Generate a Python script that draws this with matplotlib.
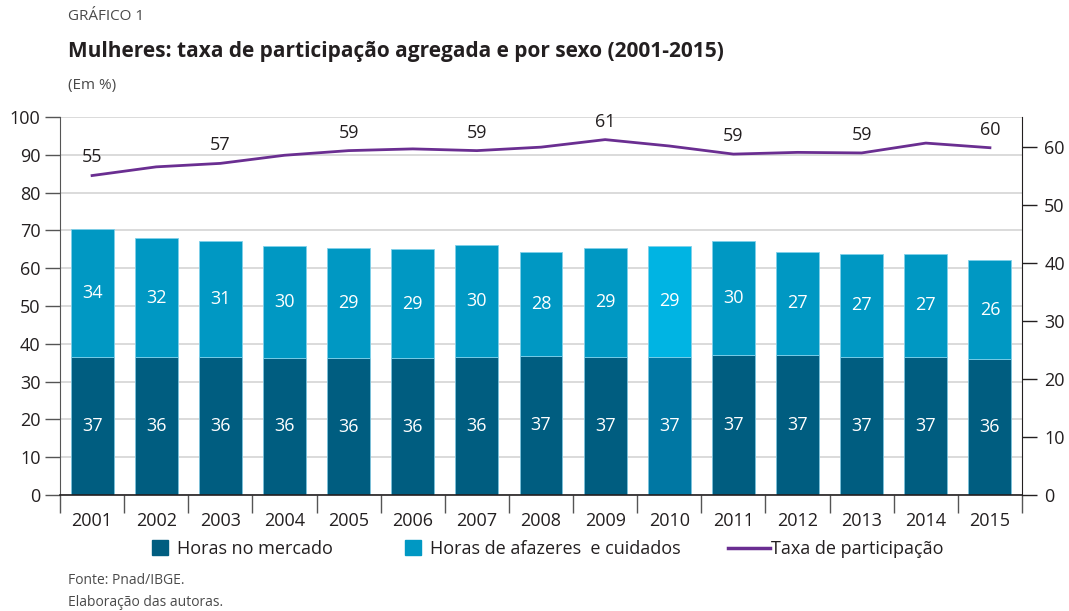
import matplotlib
matplotlib.use("Agg")
import matplotlib.pyplot as plt
from matplotlib.patches import Patch
from matplotlib.lines import Line2D
import numpy as np

plt.rcParams['font.family'] = ['Open Sans', 'DejaVu Sans']

# dados
anos = ['2001', '2002', '2003', '2004', '2005', '2006', '2007', '2008',
        '2009', '2010', '2011', '2012', '2013', '2014', '2015']
horas_mercado = [36.6, 36.4, 36.4, 36.3, 36.2, 36.2, 36.4, 36.8,
                 36.6, 36.6, 37.0, 37.0, 36.6, 36.6, 35.9]
horas_afazeres = [33.8, 31.6, 30.8, 29.6, 29.1, 28.9, 29.7, 27.6,
                  28.8, 29.4, 30.2, 27.4, 27.1, 27.1, 26.3]
taxa_participacao = [55.1, 56.6, 57.2, 58.6, 59.4, 59.7, 59.4, 60.0,
                     61.3, 60.2, 58.8, 59.1, 59.0, 60.7, 59.9]
anos_rotulo_taxa = ['2001', '2003', '2005', '2007', '2009', '2011', '2013', '2015']
ano_destaque = '2010'

C_MERC = '#005d80'
C_AFAZ = '#0098c3'
C_MERC_D = '#0077a3'
C_AFAZ_D = '#00b4e3'
C_LINHA = '#6a2e91'
C_TXT = '#231f20'

fig = plt.figure(figsize=(10.69, 6.11), dpi=100)
ax = fig.add_axes([60 / 1069, 1 - 495 / 611, (1022 - 60) / 1069, (495 - 117) / 611])

x = np.arange(len(anos))
cor_m = [C_MERC_D if a == ano_destaque else C_MERC for a in anos]
cor_a = [C_AFAZ_D if a == ano_destaque else C_AFAZ for a in anos]

ax.bar(x, horas_mercado, width=0.67, color=cor_m, edgecolor='#7cc3dc', linewidth=0.6, zorder=2)
ax.bar(x, horas_afazeres, width=0.67, bottom=horas_mercado, color=cor_a,
       edgecolor='#7fd0ea', linewidth=0.6, zorder=2)

for xi, m, a in zip(x, horas_mercado, horas_afazeres):
    ax.text(xi, m / 2, f"{round(m)}", ha='center', va='center', color='white', fontsize=13)
    ax.text(xi, m + a / 2, f"{round(a)}", ha='center', va='center', color='white', fontsize=13)

ax.set_xlim(-0.5, len(anos) - 0.5)
ax.set_ylim(0, 100)
ax.set_yticks(range(0, 101, 10))
ax.yaxis.grid(True, color='#d4d4d4', linewidth=1.2, zorder=0)
ax.set_axisbelow(True)
ax.tick_params(axis='y', direction='out', length=11, width=1, color='#555555',
               labelsize=13, labelcolor=C_TXT, pad=3)

ax.set_xticks(x)
ax.set_xticklabels(anos)
ax.set_xticks(np.arange(-0.5, len(anos), 1), minor=True)
ax.tick_params(axis='x', which='major', length=0, labelsize=13, labelcolor=C_TXT, pad=12)
ax.tick_params(axis='x', which='minor', direction='out', length=13, width=1, color='#555555')

ax.spines['top'].set_visible(False)
ax.spines['left'].set_color('#555555')
ax.spines['right'].set_visible(False)
ax.spines['bottom'].set_color('#231f20')
ax.spines['bottom'].set_linewidth(1.2)

ax2 = ax.twinx()
ax2.set_ylim(0, 65.2)
ax2.set_yticks(range(0, 61, 10))
ax2.plot(x, taxa_participacao, color=C_LINHA, linewidth=2.0, zorder=3)
for a in anos_rotulo_taxa:
    i = anos.index(a)
    ax2.annotate(f"{round(taxa_participacao[i])}", (x[i], taxa_participacao[i]),
                 xytext=(0, 13), textcoords='offset points', ha='center', va='center',
                 fontsize=13, color=C_TXT)
ax2.tick_params(axis='y', direction='out', length=11, width=1, color='#231f20',
                labelsize=13, labelcolor=C_TXT, pad=5)
for s in ['top', 'left', 'bottom']:
    ax2.spines[s].set_visible(False)
ax2.spines['right'].set_color('#231f20')

# legenda, um bloco por item
leg_kw = dict(frameon=False, fontsize=13, labelcolor=C_TXT, loc='center left',
              handletextpad=0.5, borderpad=0, borderaxespad=0)
fig.legend(handles=[Patch(color=C_MERC)], labels=['Horas no mercado'],
           bbox_to_anchor=(152 / 1069, 1 - 549 / 611), handlelength=0.9,
           handleheight=0.9, **leg_kw)
fig.legend(handles=[Patch(color=C_AFAZ)], labels=['Horas de afazeres  e cuidados'],
           bbox_to_anchor=(405 / 1069, 1 - 549 / 611), handlelength=0.9,
           handleheight=0.9, **leg_kw)
leg_kw['handletextpad'] = 0.1
fig.legend(handles=[Line2D([], [], color=C_LINHA, linewidth=2.5)],
           labels=['Taxa de participação'],
           bbox_to_anchor=(728 / 1069, 1 - 549 / 611), handlelength=2.3, **leg_kw)

fig.text(68 / 1069, 1 - 17 / 611, 'GRÁFICO 1', fontsize=11, color='#4a4a4a', va='center')
fig.text(68 / 1069, 1 - 52 / 611, 'Mulheres: taxa de participação agregada e por sexo (2001-2015)',
         fontsize=15, fontweight='bold', color=C_TXT, va='center')
fig.text(68 / 1069, 1 - 85 / 611, '(Em %)', fontsize=11, color='#4a4a4a', va='center')
fig.text(68 / 1069, 1 - 581 / 611, 'Fonte: Pnad/IBGE.', fontsize=10, color='#4a4a4a', va='center')
fig.text(68 / 1069, 1 - 602 / 611, 'Elaboração das autoras.', fontsize=10, color='#4a4a4a',
         va='center')

fig.savefig('out.png', dpi=100)
